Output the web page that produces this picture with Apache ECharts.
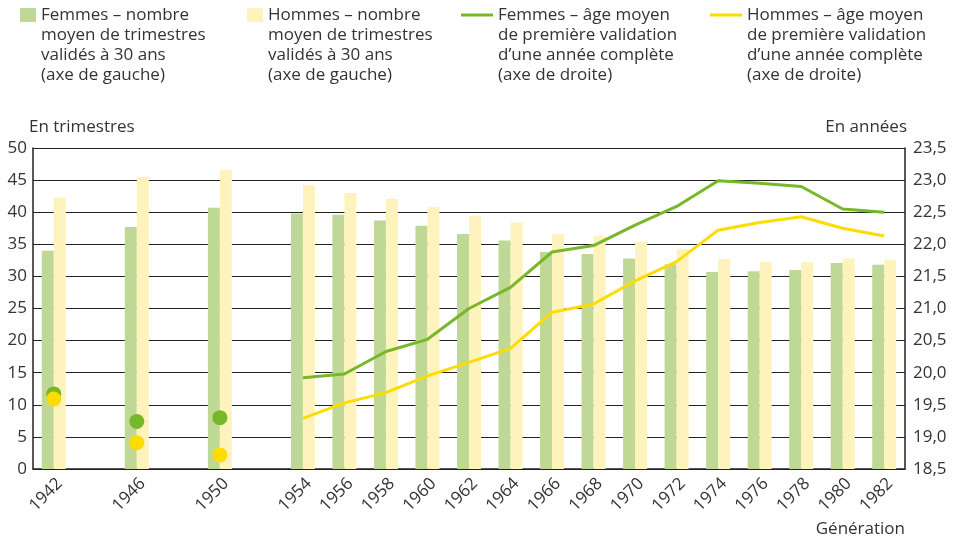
<!DOCTYPE html>
<html>
<head>
<meta charset="utf-8">
<script src="https://cdn.jsdelivr.net/npm/echarts@6/dist/echarts.min.js"></script>
<style>
html, body { margin: 0; padding: 0; background: #fff; }
#chart { width: 956px; height: 541px; }
</style>
</head>
<body>
<div id="chart"></div>
<script>
// générations (une catégorie tous les 2 ans, 1944/1948/1952 vides)
var years = ['1942', '1944', '1946', '1948', '1950', '1952', '1954', '1956', '1958', '1960', '1962',
	'1964', '1966', '1968', '1970', '1972', '1974', '1976', '1978', '1980', '1982'];
// nombre moyen de trimestres validés à 30 ans (axe de gauche)
var femmesTrim = [34.0, null, 37.7, null, 40.7, null, 39.8, 39.6, 38.7, 37.9, 36.6,
	35.6, 33.8, 33.5, 32.8, 31.9, 30.7, 30.8, 31.0, 32.1, 31.8];
var hommesTrim = [42.3, null, 45.5, null, 46.6, null, 44.2, 43.0, 42.1, 40.8, 39.5,
	38.4, 36.6, 36.3, 35.4, 34.3, 32.7, 32.3, 32.2, 32.8, 32.6];
// âge moyen de première validation d'une année complète (axe de droite)
var femmesAge = [19.67, null, 19.24, null, 19.30, null, 19.92, 19.98, 20.33, 20.52, 21.00,
	21.33, 21.88, 21.98, 22.30, 22.59, 22.99, 22.95, 22.90, 22.55, 22.50];
var hommesAge = [19.59, null, 18.91, null, 18.72, null, 19.29, 19.53, 19.69, 19.95, 20.16,
	20.38, 20.94, 21.07, 21.43, 21.73, 22.22, 22.34, 22.43, 22.25, 22.13];
var firstLine = 6; // la courbe commence avec la génération 1954

var legendText = {
	'F trim': 'Femmes – nombre\nmoyen de trimestres\nvalidés à 30 ans\n(axe de gauche)',
	'H trim': 'Hommes – nombre\nmoyen de trimestres\nvalidés à 30 ans\n(axe de gauche)',
	'F age': 'Femmes – âge moyen\nde première validation\nd\u2019une année complète\n(axe de droite)',
	'H age': 'Hommes – âge moyen\nde première validation\nd\u2019une année complète\n(axe de droite)'
};

var font = 'Open Sans';
var txt = '#333';

function lineData(arr) {
	return arr.map(function (v, i) { return i >= firstLine ? v : null; });
}
function dotData(arr) {
	return arr.map(function (v, i) { return i < firstLine ? v : null; });
}
function legendItem(name, left, w, h) {
	return {
		data: [name],
		left: left,
		top: -55,
		padding: 0,
		itemWidth: w,
		itemHeight: h,
		icon: 'rect',
		selectedMode: false,
		textStyle: { fontFamily: font, fontSize: 17, color: txt, lineHeight: 20 },
		formatter: function (n) { return '\n\n\n' + legendText[n]; }
	};
}

var chart = echarts.init(document.getElementById('chart'));
var option = {
	animation: false,
	legend: [
		legendItem('F trim', 20, 16, 14),
		legendItem('H trim', 247, 16, 14),
		legendItem('F age', 461, 32, 3),
		legendItem('H age', 710, 32, 3)
	],
	grid: { left: 33, right: 51, top: 148, bottom: 72 },
	xAxis: {
		type: 'category',
		data: years,
		name: 'Génération',
		nameLocation: 'end',
		nameGap: 0,
		nameTextStyle: { fontFamily: font, fontSize: 17, color: txt, align: 'right', verticalAlign: 'top', padding: [52, 0, 0, 0] },
		axisLine: { lineStyle: { color: '#222', width: 1.5 } },
		axisTick: { interval: 0, length: 6, lineStyle: { color: '#222', width: 1.5 } },
		axisLabel: {
			interval: 0,
			rotate: 45,
			margin: 6,
			verticalAlign: 'top',
			fontFamily: font,
			fontSize: 17,
			color: txt,
			formatter: function (v, i) { return femmesTrim[i] == null ? '' : v; }
		}
	},
	yAxis: [{
		type: 'value',
		min: 0,
		max: 50,
		interval: 5,
		name: 'En trimestres',
		nameGap: 12,
		nameTextStyle: { fontFamily: font, fontSize: 17, color: txt, align: 'left', padding: [0, 0, 0, -4] },
		axisLine: { show: true, lineStyle: { color: '#222', width: 1.5 } },
		axisTick: { show: false },
		axisLabel: { fontFamily: font, fontSize: 17, color: txt, margin: 6 },
		splitLine: { lineStyle: { color: '#222', width: 1 } }
	}, {
		type: 'value',
		min: 18.5,
		max: 23.5,
		interval: 0.5,
		name: 'En années',
		nameGap: 12,
		nameTextStyle: { fontFamily: font, fontSize: 17, color: txt, align: 'right', padding: [0, -2, 0, 0] },
		axisLine: { show: true, lineStyle: { color: '#222', width: 1.5 } },
		axisTick: { show: false },
		axisLabel: {
			fontFamily: font, fontSize: 17, color: txt, margin: 8,
			formatter: function (v) { return v.toFixed(1).replace('.', ','); }
		},
		splitLine: { show: false }
	}],
	series: [{
		name: 'F trim',
		type: 'bar',
		data: femmesTrim,
		barWidth: 12,
		barGap: '0%',
		itemStyle: { color: '#bfd896' }
	}, {
		name: 'H trim',
		type: 'bar',
		data: hommesTrim,
		barWidth: 12,
		itemStyle: { color: '#fff3bd' }
	}, {
		name: 'F age',
		type: 'line',
		yAxisIndex: 1,
		data: lineData(femmesAge),
		showSymbol: false,
		lineStyle: { color: '#76b82a', width: 3 },
		itemStyle: { color: '#76b82a' }
	}, {
		name: 'H age',
		type: 'line',
		yAxisIndex: 1,
		data: lineData(hommesAge),
		showSymbol: false,
		lineStyle: { color: '#ffdc00', width: 3 },
		itemStyle: { color: '#ffdc00' }
	}, {
		name: 'F age points',
		type: 'scatter',
		yAxisIndex: 1,
		data: dotData(femmesAge),
		symbolSize: 15,
		itemStyle: { color: '#76b82a', opacity: 1 }
	}, {
		name: 'H age points',
		type: 'scatter',
		yAxisIndex: 1,
		data: dotData(hommesAge),
		symbolSize: 15,
		itemStyle: { color: '#ffdc00', opacity: 1 }
	}]
};
chart.setOption(option);
</script>
</body>
</html>
